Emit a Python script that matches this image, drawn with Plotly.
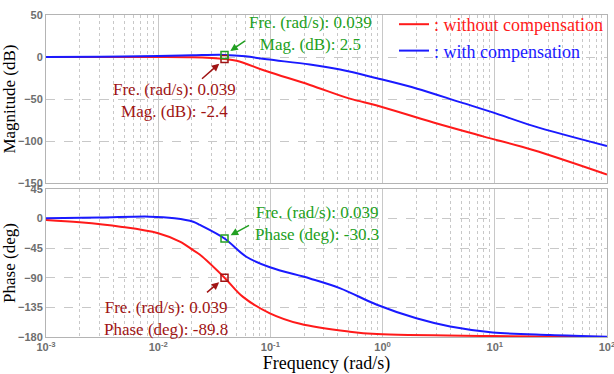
import numpy as np
import plotly.graph_objects as go

# ---- data ----
freq_mag_red = [0.001, 0.01, 0.02, 0.03, 0.039, 0.05, 0.093, 0.225, 0.51, 0.89, 2.84, 7.86, 21.9, 100]
mag_red = [0, 0, -0.3, -1.2, -2.4, -4.5, -17, -33.3, -49.6, -57.7, -78, -94.5, -110.8, -140]

freq_mag_blue = [0.001, 0.003, 0.01, 0.02, 0.039, 0.06, 0.093, 0.225, 0.418, 0.89, 2.0, 4.9, 9.6, 21.9, 100]
mag_blue = [0, 0.3, 1.2, 2.0, 2.5, 0.8, -2.8, -8.9, -15, -25.3, -37.4, -53.7, -65.9, -82, -106]

freq_ph_red = [0.001, 0.002, 0.0046, 0.01, 0.0156, 0.0205, 0.0236, 0.039, 0.057, 0.099, 0.184, 0.51, 0.89, 9.6, 100]
ph_red = [-2, -5.6, -12.3, -22.3, -35, -48, -55, -89.8, -119, -144, -160, -172, -175.6, -178.6, -180]

freq_ph_blue = [0.001, 0.003, 0.0084, 0.014, 0.0205, 0.0236, 0.039, 0.061, 0.099, 0.225, 0.42, 0.89, 2.0, 4.0, 9.6, 31, 100]
ph_blue = [0.5, 1.5, 3, 0.5, -4.7, -9.7, -30.3, -58, -74, -91, -106, -131, -151.6, -164, -173, -177, -179.5]

mark_freq = 0.039
mark_mag_red, mark_mag_blue = -2.4, 2.5
mark_ph_red, mark_ph_blue = -89.8, -30.3

mag_ticks = [-150, -100, -50, 0, 50]
ph_ticks = [-180, -135, -90, -45, 0, 45]
freq_ticks = [0.001, 0.01, 0.1, 1, 10, 100]
freq_ticktext = ["10<sup>-3</sup>", "10<sup>-2</sup>", "10<sup>-1</sup>", "10<sup>0</sup>", "10<sup>1</sup>", "10<sup>2</sup>"]

RED = "#ff1a1a"
BLUE = "#1a1aff"
GREEN = "#22a022"
DRED = "#a01414"
SERIF = "Liberation Serif"

fig = go.Figure()
fig.add_trace(go.Scatter(x=freq_mag_red, y=mag_red, mode="lines", line=dict(color=RED, width=2, shape="spline"),
                         name="<span style='color:#ff1a1a'>: without compensation</span>", xaxis="x", yaxis="y"))
fig.add_trace(go.Scatter(x=freq_mag_blue, y=mag_blue, mode="lines", line=dict(color=BLUE, width=2, shape="spline"),
                         name="<span style='color:#1a1aff'>: with compensation</span>", xaxis="x", yaxis="y"))
fig.add_trace(go.Scatter(x=freq_ph_red, y=ph_red, mode="lines", line=dict(color=RED, width=2, shape="spline"),
                         showlegend=False, xaxis="x2", yaxis="y2"))
fig.add_trace(go.Scatter(x=freq_ph_blue, y=ph_blue, mode="lines", line=dict(color=BLUE, width=2, shape="spline"),
                         showlegend=False, xaxis="x2", yaxis="y2"))

mk = dict(symbol="square-open", size=7)
fig.add_trace(go.Scatter(x=[mark_freq], y=[mark_mag_red], mode="markers", marker=dict(color=DRED, line=dict(width=1.5), **mk),
                         showlegend=False, xaxis="x", yaxis="y"))
fig.add_trace(go.Scatter(x=[mark_freq], y=[mark_mag_blue], mode="markers", marker=dict(color=GREEN, line=dict(width=1.5), **mk),
                         showlegend=False, xaxis="x", yaxis="y"))
fig.add_trace(go.Scatter(x=[mark_freq], y=[mark_ph_red], mode="markers", marker=dict(color=DRED, line=dict(width=1.5), **mk),
                         showlegend=False, xaxis="x2", yaxis="y2"))
fig.add_trace(go.Scatter(x=[mark_freq], y=[mark_ph_blue], mode="markers", marker=dict(color=GREEN, line=dict(width=1.5), **mk),
                         showlegend=False, xaxis="x2", yaxis="y2"))

GRID = "#c8c8c8"
tickfont = dict(family="Liberation Sans", size=11, color="#6e6e6e", weight="bold")

xcommon = dict(type="log", range=[-3, 2.0002], tickvals=freq_ticks, ticktext=freq_ticktext, showgrid=True, gridcolor=GRID,
               gridwidth=1, showline=True, linecolor="#b4b4b4", mirror=True, ticks="", tickfont=tickfont,
               ticklabeloverflow="allow",
               minor=dict(dtick="D1", showgrid=True, gridcolor=GRID, griddash="dot", gridwidth=1), zeroline=False)
ycommon = dict(showgrid=True, gridcolor=GRID, griddash="dash", gridwidth=1, showline=True, linecolor="#b4b4b4",
               mirror=True, ticks="", tickfont=tickfont, zeroline=False)

def xp(px):
    return (px - 46) / 561

def yp(py):
    return (337 - py) / 322

fig.update_layout(
    width=614, height=374,
    margin=dict(l=46, r=7, t=15, b=37, autoexpand=False),
    paper_bgcolor="white", plot_bgcolor="white",
    xaxis=dict(domain=[0, 1], anchor="y", showticklabels=False, matches="x2", **xcommon),
    xaxis2=dict(domain=[0, 1], anchor="y2",
                title=dict(text="Frequency (rad/s)", font=dict(family=SERIF, size=18, color="black"), standoff=0),
                **xcommon),
    yaxis=dict(domain=[yp(183), 1], range=[-150, 50], tickvals=mag_ticks, anchor="x",
               title=dict(text="Magnitude (dB)", font=dict(family=SERIF, size=17, color="black"), standoff=6),
               **ycommon),
    yaxis2=dict(domain=[0, yp(189)], range=[-180, 45], tickvals=ph_ticks, anchor="x2",
                title=dict(text="Phase (deg)", font=dict(family=SERIF, size=17, color="black"), standoff=6),
                **ycommon),
    legend=dict(x=xp(394), y=yp(6), xanchor="left", yanchor="top", bgcolor="rgba(0,0,0,0)",
                font=dict(family=SERIF, size=18), itemwidth=30, tracegroupgap=0),
    showlegend=True,
)

ann_font = lambda c: dict(family=SERIF, size=17, color=c)
lx = np.log10(mark_freq)
txt = dict(showarrow=False, align="center", xanchor="center", yanchor="middle", xref="paper", yref="paper")
annotations = [
    dict(x=xp(310), y=yp(34), text="Fre. (rad/s): 0.039<br>Mag. (dB): 2.5", font=ann_font(GREEN), **txt),
    dict(x=xp(174), y=yp(101), text="Fre. (rad/s): 0.039<br>Mag. (dB): -2.4", font=ann_font(DRED), **txt),
    dict(x=xp(317), y=yp(223), text="Fre. (rad/s): 0.039<br>Phase (deg): -30.3", font=ann_font(GREEN), **txt),
    dict(x=xp(166), y=yp(318), text="Fre. (rad/s): 0.039<br>Phase (deg): -89.8", font=ann_font(DRED), **txt),
    dict(x=lx, y=mark_mag_blue, xref="x", yref="y", text="", showarrow=True, ax=22, ay=-15,
         arrowhead=2, arrowsize=1, arrowwidth=1.5, arrowcolor=GREEN, standoff=7),
    dict(x=lx, y=mark_mag_red, xref="x", yref="y", text="", showarrow=True, ax=-24, ay=21,
         arrowhead=2, arrowsize=1, arrowwidth=1.5, arrowcolor=DRED, standoff=7),
    dict(x=lx, y=mark_ph_blue, xref="x2", yref="y2", text="", showarrow=True, ax=26, ay=-14,
         arrowhead=2, arrowsize=1, arrowwidth=1.5, arrowcolor=GREEN, standoff=7),
    dict(x=lx, y=mark_ph_red, xref="x2", yref="y2", text="", showarrow=True, ax=-19, ay=16,
         arrowhead=2, arrowsize=1, arrowwidth=1.5, arrowcolor=DRED, standoff=7),
]
fig.update_layout(annotations=annotations)

fig.write_html("out.html", config={"displayModeBar": False},
               post_script="document.body.style.margin='0';")
